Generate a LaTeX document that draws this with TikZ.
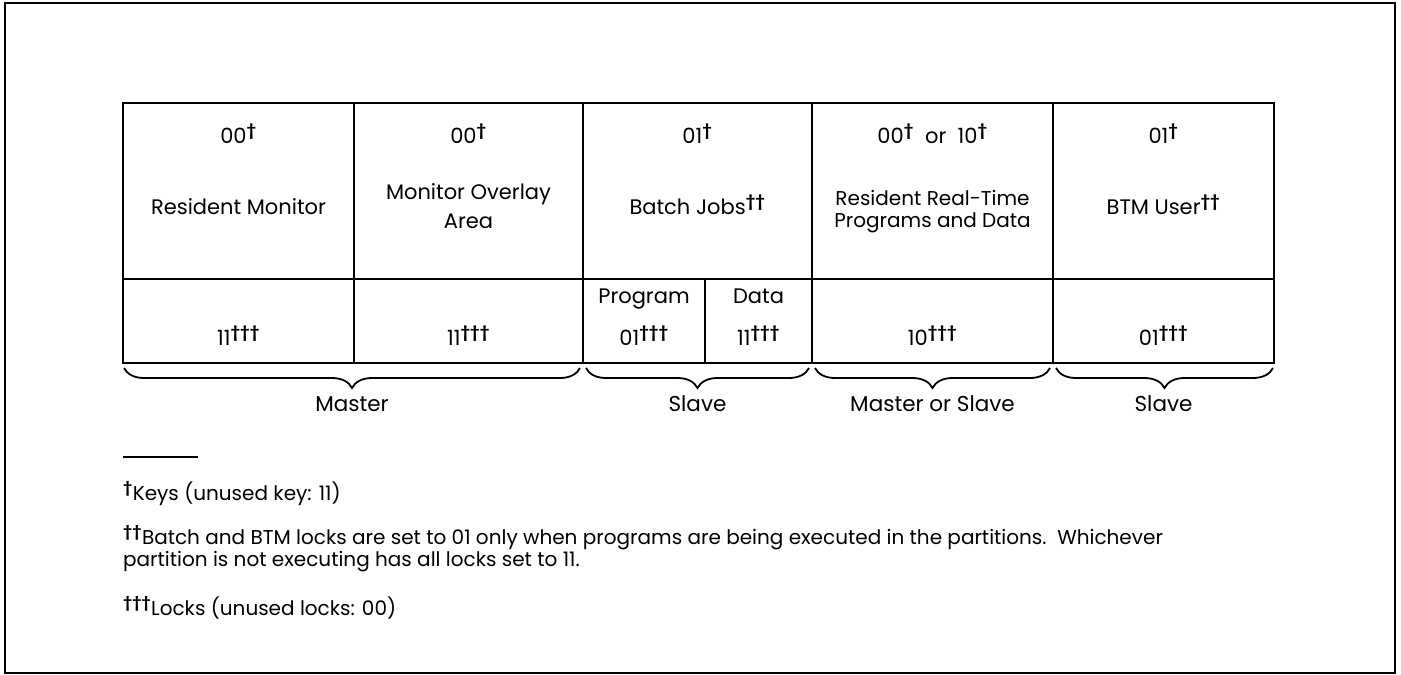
\documentclass[tikz,border=0pt]{standalone}
\usepackage{fontspec}
\setmainfont{Poppins}
\usetikzlibrary{decorations.pathreplacing}
\newcommand\oneD{\textsuperscript{\bfseries\dag}}
\newcommand\twoD{\textsuperscript{\bfseries\dag\dag}}
\newcommand\threeD{\textsuperscript{\bfseries\dag\dag\dag}}
\begin{document}
\begin{tikzpicture}[x=1pt,y=-1pt,
  txt/.style={inner sep=0pt, anchor=base, font=\fontsize{21}{25}\selectfont},
  small/.style={inner sep=0pt, anchor=base, font=\fontsize{20}{22}\selectfont},
  blabel/.style={inner sep=0pt, anchor=base, font=\fontsize{21.5}{25}\selectfont},
  foot/.style={inner sep=0pt, anchor=base west, font=\fontsize{20}{24}\selectfont},
  grid/.style={line width=1.8pt},
  frame/.style={line width=2.4pt},
  bracestyle/.style={line width=1.8pt, decorate, decoration={brace, mirror, amplitude=20pt}}]
\useasboundingbox (0,0) rectangle (1401,675);
% outer frame
\draw[frame] (5,3) rectangle (1395,673);
% table
\draw[grid] (123,103) rectangle (1274,363);
\draw[grid] (123,279) -- (1274,279);
\foreach \x in {354,583,812,1053} \draw[grid] (\x,103) -- (\x,363);
\draw[grid] (705,279) -- (705,363);
% keys row
\node[txt] (k1) at (238.5,143) {00\oneD};
\node[txt] (k2) at (468.5,143) {00\oneD};
\node[txt] (k3) at (697.5,143) {01\oneD};
\node[txt] (k4) at (932.5,143) {00\oneD\ \ or \ 10\oneD};
\node[txt] (k5) at (1163.5,143) {01\oneD};
% labels
\node[txt] (l1) at (238.5,214) {Resident Monitor};
\node[txt] (l2a) at (468.5,199) {Monitor Overlay};
\node[txt] (l2b) at (468.5,228) {Area};
\node[txt] (l3) at (697.5,214) {Batch Jobs\twoD};
\node[small] (l4a) at (932.5,205) {Resident Real-Time};
\node[small] (l4b) at (932.5,227) {Programs and Data};
\node[txt] (l5) at (1163.5,214) {BTM User\twoD};
% locks row
\node[txt] (p1) at (644,303) {Program};
\node[txt] (p2) at (758.5,303) {Data};
\node[txt] (m1) at (238.5,345) {11\threeD};
\node[txt] (m2) at (468.5,345) {11\threeD};
\node[txt] (m3a) at (644,345) {01\threeD};
\node[txt] (m3b) at (758.5,345) {11\threeD};
\node[txt] (m4) at (932.5,345) {10\threeD};
\node[txt] (m5) at (1163.5,345) {01\threeD};
% braces
\draw[bracestyle] (124,368) -- (580,368);
\draw[bracestyle] (586,368) -- (809,368);
\draw[bracestyle] (815,368) -- (1050,368);
\draw[bracestyle] (1056,368) -- (1273,368);
\node[blabel] (b1) at (352,411) {Master};
\node[blabel] (b2) at (697.5,411) {Slave};
\node[blabel] (b3) at (932.5,411) {Master or Slave};
\node[blabel] (b4) at (1163.5,411) {Slave};
% footnotes
\draw[line width=1.6pt] (123,457) -- (198,457);
\node[foot] (f1) at (123,500) {\oneD Keys (unused key: 11)};
\node[foot] (f2) at (123,544) {\twoD Batch and BTM locks are set to 01 only when programs are being executed in the partitions.\ \ Whichever};
\node[foot] (f3) at (123,566) {partition is not executing has all locks set to 11.};
\node[foot] (f4) at (123,615) {\threeD Locks (unused locks: 00)};
\end{tikzpicture}
\end{document}
